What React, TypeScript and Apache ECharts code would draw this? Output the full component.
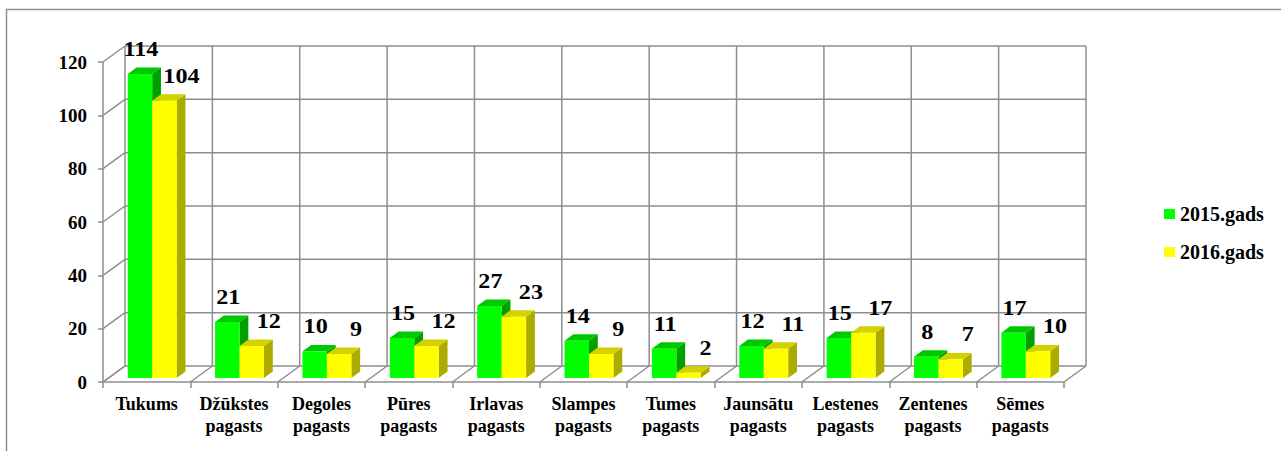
import React, { useEffect, useRef } from "react";
import * as echarts from "echarts";

const categories = [
  "Tukums",
  "Džūkstes\npagasts",
  "Degoles\npagasts",
  "Pūres\npagasts",
  "Irlavas\npagasts",
  "Slampes\npagasts",
  "Tumes\npagasts",
  "Jaunsātu\npagasts",
  "Lestenes\npagasts",
  "Zentenes\npagasts",
  "Sēmes\npagasts",
];
const seriesNames = ["2015.gads", "2016.gads"];
const values2015 = [114, 21, 10, 15, 27, 14, 11, 12, 15, 8, 17];
const values2016 = [104, 12, 9, 12, 23, 9, 2, 11, 17, 7, 10];
const yTicks = [0, 20, 40, 60, 80, 100, 120];

const FONT = "Liberation Serif";
const GRID = "#8e8e8e";
const DX = 22;
const DY = -16;
const FRONT = 0.25;
const DEPTH = 0.4;
const BAR_FRAC = 0.28;

const palettes = [
  { front: "#00ff00", top: "#00c800", side: "#00a000" },
  { front: "#ffff00", top: "#d2d200", side: "#abab00" },
];

function frameRender(params: any, api: any) {
  const band = api.size([1, 0])[0];
  const n = categories.length;
  const left = api.coord([0, 0])[0] - band / 2;
  const y0 = api.coord([0, 0])[1];
  const yTop = api.coord([0, yTicks[yTicks.length - 1]])[1];
  const style = { stroke: GRID, lineWidth: 1.5 };
  const children: any[] = [];
  for (const v of yTicks) {
    const y = api.coord([0, v])[1];
    children.push({ type: "line", shape: { x1: left, y1: y, x2: left + DX, y2: y + DY }, style });
    children.push({
      type: "line",
      shape: { x1: left + DX, y1: y + DY, x2: left + n * band + DX, y2: y + DY },
      style,
    });
  }
  for (let i = 0; i <= n; i++) {
    const x = left + i * band;
    children.push({ type: "line", shape: { x1: x, y1: y0, x2: x + DX, y2: y0 + DY }, style });
    children.push({ type: "line", shape: { x1: x + DX, y1: y0 + DY, x2: x + DX, y2: yTop + DY }, style });
  }
  return { type: "group", children };
}

function makeBarRender(k: number) {
  const pal = palettes[k];
  return (params: any, api: any) => {
    const idx = api.value(0);
    const v = api.value(1);
    const band = api.size([1, 0])[0];
    const base = api.coord([idx, 0]);
    const top = api.coord([idx, v]);
    const bw = band * BAR_FRAC;
    const fx = DX * FRONT;
    const fy = DY * FRONT;
    const ddx = DX * DEPTH;
    const ddy = DY * DEPTH;
    const xL = base[0] + fx + (k === 0 ? -bw : 0);
    const xR = xL + bw;
    const yB = base[1] + fy;
    const yT = top[1] + fy;
    return {
      type: "group",
      children: [
        {
          type: "polygon",
          shape: { points: [[xR, yT], [xR + ddx, yT + ddy], [xR + ddx, yB + ddy], [xR, yB]] },
          style: { fill: pal.side },
        },
        {
          type: "polygon",
          shape: { points: [[xL, yT], [xL + ddx, yT + ddy], [xR + ddx, yT + ddy], [xR, yT]] },
          style: { fill: pal.top },
        },
        {
          type: "rect",
          shape: { x: xL, y: yT, width: bw, height: yB - yT },
          style: { fill: pal.front },
        },
        {
          type: "text",
          x: (xL + xR) / 2 + (k === 0 ? 1 : 17),
          y: yT + ddy - 8,
          scaleX: 1.15,
          z2: 10,
          style: {
            text: String(v),
            fontFamily: FONT,
            fontWeight: "bold",
            fontSize: 21,
            fill: "#000",
            align: "center",
            verticalAlign: "bottom",
          },
        },
      ],
    };
  };
}

export default function App() {
  const ref = useRef<HTMLDivElement>(null);
  useEffect(() => {
    if (!ref.current) return;
    const chart = echarts.init(ref.current, null, { renderer: "svg" });
    const seriesValues = [values2015, values2016];
    chart.setOption({
      animation: false,
      backgroundColor: "#ffffff",
      textStyle: { fontFamily: FONT },
      graphic: [
        {
          type: "rect",
          shape: { x: 6.5, y: 9.5, width: 1400, height: 600 },
          style: { fill: "none", stroke: "#909090", lineWidth: 1.5 },
          silent: true,
        },
      ],
      grid: { left: 103, top: 62, width: 961, height: 320 },
      legend: {
        data: seriesNames,
        orient: "vertical",
        left: 1159,
        top: 199,
        icon: "rect",
        itemWidth: 11,
        itemHeight: 10,
        itemGap: 18,
        textStyle: { fontFamily: FONT, fontWeight: "bold", fontSize: 20, lineHeight: 20, color: "#000" },
      },
      xAxis: {
        type: "category",
        data: categories,
        boundaryGap: true,
        axisLine: { show: true, lineStyle: { color: GRID, width: 1.5 } },
        axisTick: { show: true, length: 6, interval: 0, lineStyle: { color: GRID, width: 1.5 } },
        axisLabel: {
          interval: 0,
          margin: 11,
          fontFamily: FONT,
          fontWeight: "bold",
          fontSize: 18,
          lineHeight: 22,
          color: "#000",
        },
        splitLine: { show: false },
      },
      yAxis: {
        type: "value",
        min: 0,
        max: 120,
        interval: 20,
        axisLine: { show: true, lineStyle: { color: GRID, width: 1.5 } },
        axisTick: { show: true, length: 5, lineStyle: { color: GRID, width: 1.5 } },
        axisLabel: { margin: 16, fontFamily: FONT, fontWeight: "bold", fontSize: 19, color: "#000" },
        splitLine: { show: false },
      },
      series: [
        {
          type: "custom",
          name: "frame",
          silent: true,
          z: 1,
          renderItem: frameRender,
          data: [[0, 0]],
        },
        ...seriesNames.map((name, k) => ({
          type: "custom",
          name,
          z: 2 + k,
          itemStyle: { color: palettes[k].front },
          renderItem: makeBarRender(k),
          data: seriesValues[k].map((v, i) => [i, v]),
        })),
      ],
    });
    return () => chart.dispose();
  }, []);
  return (
    <div
      ref={ref}
      style={{ position: "fixed", left: 0, top: 0, width: 1281, height: 451, background: "#fff" }}
    />
  );
}
